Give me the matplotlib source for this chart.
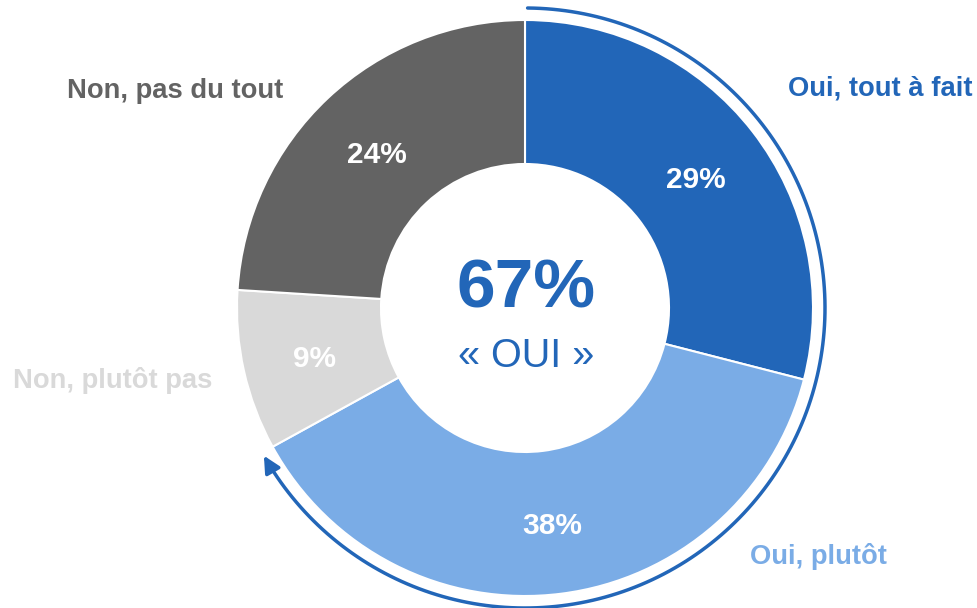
import matplotlib.pyplot as plt
import numpy as np
from matplotlib.patches import FancyArrowPatch
from matplotlib.path import Path

plt.rcParams['font.family'] = ['Liberation Sans', 'DejaVu Sans']

# donnees
categories = ['Oui, tout à fait', 'Oui, plutôt', 'Non, plutôt pas', 'Non, pas du tout']
valeurs = [29, 38, 9, 24]
couleurs = ['#2266b8', '#7aace6', '#d9d9d9', '#636363']
total_oui = 67

W, H = 978, 608
fig = plt.figure(figsize=(W / 100, H / 100), dpi=100)
ax = fig.add_axes([0, 0, 1, 1])
ax.set_xlim(0, W)
ax.set_ylim(0, H)
ax.set_aspect('equal')
ax.axis('off')

cx, cy, r = 525, H - 308, 288

def py(y):
    # pixel depuis le haut -> coordonnee
    return H - y

wedges, textes, pcts = ax.pie(
    valeurs, colors=couleurs, startangle=90, counterclock=False,
    center=(cx, cy), radius=r, autopct=lambda p: f'{p:.0f}%', pctdistance=0.75,
    wedgeprops=dict(width=r * 0.5, edgecolor='white', linewidth=1.5),
    textprops=dict(color='white', fontsize=21.5, fontweight='bold'))
ax.set_xlim(0, W)
ax.set_ylim(0, H)
for t in pcts:
    x, y = t.get_position()
    t.set_position((x, y - 4))

# etiquettes des categories
pos_labels = [(788, 89), (750, 557), (13, 381), (67, 91)]
for (x, y), lab, c in zip(pos_labels, categories, couleurs):
    ax.text(x, py(y), lab, color=c, fontsize=19.7, fontweight='bold',
            ha='left', va='center')

# centre
ax.text(cx + 1, py(289), f'{total_oui}%', color=couleurs[0], fontsize=50,
        fontweight='bold', ha='center', va='center')
ax.text(cx + 1, py(356), '« OUI »', color=couleurs[0], fontsize=28.5,
        ha='center', va='center')

# fleche en arc autour des "oui"
ra = 300
ang = np.radians(np.linspace(89.5, -150.5, 200))
pts = np.column_stack([cx + ra * np.cos(ang), cy + ra * np.sin(ang)])
fleche = FancyArrowPatch(path=Path(pts), arrowstyle='-|>,head_length=10,head_width=5',
                         color=couleurs[0], lw=2.5, mutation_scale=1)
ax.add_patch(fleche)

fig.savefig('out.png', dpi=100)
